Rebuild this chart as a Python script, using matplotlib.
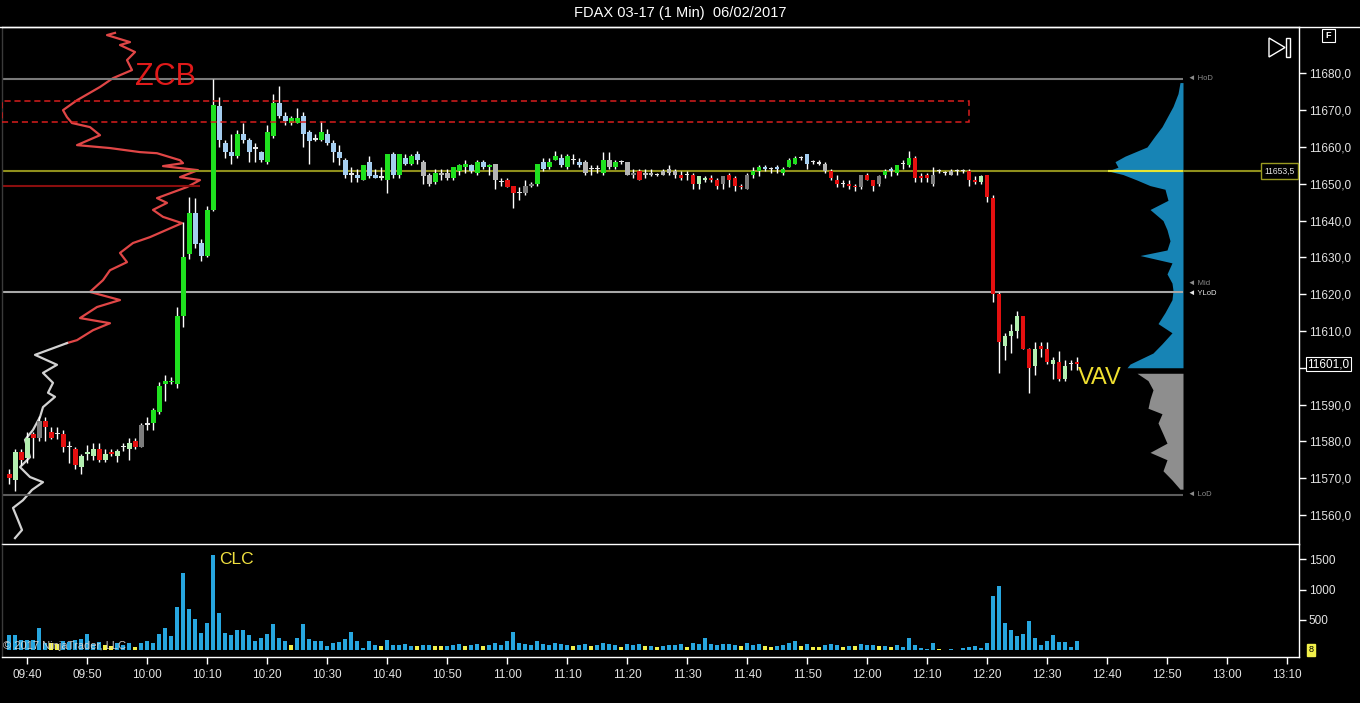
import numpy as np
import matplotlib
matplotlib.use("Agg")
import matplotlib.pyplot as plt
from matplotlib.patches import Rectangle, Polygon
from matplotlib.lines import Line2D

plt.rcParams['font.family'] = ['Liberation Sans', 'DejaVu Sans']

# ---------------- data ----------------
start_minute = 9 * 60 + 37   # first 1-min bar, 09:37

opens = [11571.0, 11569.5, 11577.0, 11575.5, 11582.0, 11581.0, 11585.5, 11582.5, 11582.0, 11582.0,
         11578.5, 11578.0, 11573.0, 11576.5, 11576.0, 11578.0, 11575.0, 11577.0, 11576.0, 11578.5,
         11578.0, 11580.0, 11578.5, 11584.5, 11585.0, 11588.0, 11595.5, 11596.0, 11595.5, 11614.0,
         11631.0, 11642.0, 11634.0, 11630.5, 11643.0, 11671.0, 11661.0, 11658.5, 11657.5, 11663.5,
         11662.0, 11660.0, 11658.5, 11656.0, 11663.0, 11672.0, 11668.5, 11666.5, 11666.5, 11668.5,
         11664.0, 11662.5, 11662.0, 11663.5, 11661.0, 11658.5, 11656.5, 11653.0, 11652.5, 11651.0,
         11656.0, 11652.5, 11652.0, 11651.0, 11658.0, 11652.5, 11657.0, 11655.5, 11658.0, 11656.0,
         11652.5, 11650.5, 11652.5, 11653.0, 11651.5, 11653.5, 11654.5, 11655.0, 11653.0, 11656.0,
         11654.5, 11655.5, 11650.5, 11651.0, 11649.5, 11647.5, 11647.5, 11649.5, 11650.0, 11654.0,
         11654.5, 11656.5, 11657.0, 11654.5, 11656.5, 11656.0, 11656.0, 11654.0, 11654.0, 11653.0,
         11656.5, 11654.5, 11656.0, 11656.0, 11652.5, 11653.5, 11653.0, 11652.5, 11652.5, 11653.5,
         11653.0, 11653.5, 11652.5, 11652.5, 11652.5, 11650.0, 11651.0, 11651.5, 11651.0, 11650.0,
         11652.5, 11651.5, 11649.5, 11648.5, 11652.5, 11653.5, 11654.5, 11654.0, 11654.5, 11653.0,
         11654.5, 11655.5, 11657.0, 11658.0, 11656.0, 11656.0, 11655.5, 11653.5, 11651.0, 11650.0,
         11650.0, 11649.5, 11649.0, 11652.5, 11651.0, 11650.0, 11652.5, 11653.5, 11653.0, 11655.5,
         11655.0, 11657.0, 11652.0, 11652.5, 11652.5, 11653.5, 11653.0, 11653.5, 11653.5, 11653.5,
         11653.5, 11651.0, 11650.5, 11652.5, 11646.0, 11620.0, 11606.0, 11608.5, 11610.0, 11614.0,
         11605.0, 11600.5, 11606.0, 11605.0, 11601.0, 11601.5, 11597.0, 11601.0, 11601.5]

highs = [11572.5, 11578.0, 11578.0, 11582.5, 11582.5, 11587.0, 11586.5, 11584.0, 11584.0, 11583.0,
         11580.0, 11578.5, 11576.5, 11579.0, 11579.5, 11579.5, 11578.0, 11578.0, 11578.0, 11579.5,
         11581.0, 11581.0, 11585.0, 11586.5, 11589.0, 11596.0, 11598.0, 11597.5, 11616.5, 11639.5,
         11646.5, 11646.0, 11635.0, 11644.0, 11678.5, 11673.5, 11662.0, 11663.5, 11664.5, 11666.5,
         11662.5, 11661.0, 11659.0, 11666.0, 11674.5, 11676.5, 11669.5, 11668.5, 11670.5, 11669.5,
         11664.5, 11663.5, 11667.0, 11665.0, 11662.0, 11660.5, 11657.0, 11654.5, 11654.0, 11655.0,
         11657.5, 11654.0, 11654.5, 11658.0, 11658.5, 11658.0, 11658.0, 11658.0, 11659.0, 11656.5,
         11653.0, 11654.0, 11654.0, 11654.0, 11654.5, 11655.5, 11656.5, 11655.5, 11656.5, 11656.5,
         11655.5, 11655.5, 11651.5, 11651.5, 11649.5, 11649.0, 11651.0, 11650.5, 11655.5, 11657.0,
         11657.0, 11659.0, 11658.0, 11658.0, 11658.0, 11657.0, 11656.5, 11655.0, 11655.0, 11658.5,
         11658.5, 11656.5, 11656.5, 11656.0, 11654.0, 11654.0, 11654.0, 11654.0, 11653.0, 11654.0,
         11655.0, 11654.0, 11653.5, 11653.5, 11653.0, 11652.0, 11652.0, 11652.5, 11651.5, 11652.0,
         11653.0, 11652.0, 11650.0, 11653.0, 11654.5, 11655.0, 11655.0, 11654.5, 11655.0, 11654.5,
         11657.0, 11657.5, 11657.5, 11658.0, 11656.5, 11656.5, 11656.0, 11654.0, 11652.5, 11651.0,
         11651.0, 11650.0, 11652.5, 11653.0, 11651.0, 11652.5, 11654.0, 11654.5, 11655.0, 11656.5,
         11659.0, 11657.5, 11653.0, 11653.0, 11654.5, 11654.0, 11653.5, 11654.0, 11654.0, 11654.0,
         11654.0, 11652.0, 11652.5, 11652.5, 11647.0, 11620.5, 11609.5, 11612.0, 11615.5, 11614.0,
         11605.5, 11607.0, 11607.0, 11607.0, 11603.0, 11604.5, 11602.0, 11602.0, 11603.0]

lows = [11568.5, 11566.5, 11573.5, 11574.0, 11575.5, 11580.0, 11580.0, 11580.5, 11580.5, 11577.0,
        11574.0, 11572.5, 11571.0, 11575.0, 11575.0, 11574.5, 11574.5, 11576.0, 11574.5, 11577.5,
        11575.0, 11578.0, 11578.5, 11583.0, 11583.0, 11587.5, 11591.0, 11595.5, 11594.5, 11611.0,
        11629.5, 11632.5, 11629.0, 11630.0, 11642.5, 11660.0, 11657.0, 11655.5, 11657.0, 11661.0,
        11656.0, 11656.0, 11656.0, 11655.5, 11662.5, 11668.0, 11666.0, 11666.0, 11666.5, 11660.0,
        11655.5, 11661.5, 11661.5, 11660.5, 11656.0, 11655.0, 11651.5, 11650.5, 11650.5, 11651.0,
        11651.5, 11651.5, 11651.0, 11647.5, 11651.5, 11651.5, 11655.0, 11655.0, 11655.5, 11650.0,
        11649.5, 11650.0, 11651.0, 11651.0, 11651.0, 11652.5, 11653.0, 11653.0, 11652.5, 11654.0,
        11652.5, 11648.5, 11649.5, 11649.0, 11643.5, 11645.5, 11647.0, 11649.0, 11649.5, 11653.5,
        11654.0, 11656.5, 11654.5, 11654.0, 11655.5, 11654.5, 11652.5, 11652.5, 11653.0, 11652.5,
        11654.0, 11654.0, 11655.5, 11652.5, 11651.5, 11651.0, 11651.5, 11652.0, 11652.0, 11652.5,
        11652.5, 11651.5, 11651.0, 11651.0, 11648.5, 11648.5, 11650.5, 11650.5, 11648.5, 11648.5,
        11649.0, 11648.0, 11648.5, 11648.5, 11651.5, 11652.0, 11653.5, 11653.0, 11653.0, 11652.5,
        11654.5, 11655.5, 11656.5, 11654.0, 11655.5, 11655.0, 11653.0, 11651.0, 11649.0, 11649.0,
        11648.5, 11648.0, 11648.5, 11651.0, 11648.0, 11649.5, 11651.5, 11652.0, 11652.5, 11654.0,
        11654.5, 11650.5, 11650.5, 11650.5, 11649.5, 11653.0, 11652.5, 11652.5, 11652.5, 11653.0,
        11649.5, 11650.0, 11650.0, 11645.0, 11618.0, 11598.5, 11602.0, 11604.0, 11608.0, 11605.0,
        11593.0, 11598.0, 11603.0, 11601.0, 11597.0, 11596.5, 11596.5, 11599.5, 11599.5]

closes = [11570.0, 11577.0, 11575.0, 11581.0, 11581.0, 11585.5, 11584.0, 11581.0, 11582.0, 11578.5,
          11578.5, 11573.5, 11576.0, 11577.0, 11578.0, 11575.0, 11576.5, 11576.5, 11577.5, 11578.5,
          11579.5, 11578.5, 11584.5, 11585.0, 11588.5, 11595.0, 11596.5, 11596.5, 11614.0, 11630.0,
          11642.0, 11633.5, 11630.5, 11643.0, 11671.5, 11662.0, 11658.5, 11657.5, 11663.5, 11662.0,
          11658.5, 11659.5, 11656.5, 11664.0, 11672.0, 11668.5, 11667.0, 11668.0, 11668.0, 11663.5,
          11661.5, 11662.0, 11664.0, 11661.0, 11658.5, 11657.0, 11652.5, 11652.5, 11651.5, 11655.0,
          11652.0, 11651.5, 11651.5, 11658.0, 11652.5, 11658.0, 11655.5, 11657.5, 11656.5, 11652.0,
          11650.0, 11653.0, 11653.0, 11651.5, 11654.5, 11655.0, 11655.5, 11653.5, 11656.0, 11654.5,
          11655.0, 11651.0, 11650.5, 11649.0, 11647.5, 11647.5, 11649.5, 11650.0, 11655.5, 11656.0,
          11656.0, 11657.5, 11655.0, 11657.5, 11656.5, 11655.0, 11653.0, 11654.0, 11654.0, 11656.5,
          11654.5, 11656.0, 11656.0, 11652.5, 11653.0, 11651.0, 11652.5, 11653.0, 11652.5, 11652.5,
          11654.0, 11652.5, 11651.5, 11652.5, 11650.0, 11652.0, 11651.5, 11651.0, 11649.5, 11652.0,
          11651.0, 11649.5, 11649.0, 11652.5, 11653.5, 11654.5, 11654.0, 11654.0, 11654.0, 11654.0,
          11656.5, 11657.0, 11657.0, 11655.5, 11656.0, 11655.5, 11653.5, 11651.5, 11650.0, 11650.0,
          11649.5, 11649.0, 11652.5, 11651.0, 11649.5, 11652.0, 11653.5, 11654.0, 11655.0, 11655.5,
          11657.0, 11651.5, 11651.5, 11651.5, 11650.0, 11653.5, 11653.0, 11652.5, 11653.5, 11653.5,
          11651.0, 11650.5, 11652.0, 11646.5, 11620.0, 11607.0, 11608.5, 11610.0, 11614.0, 11605.0,
          11600.0, 11605.0, 11605.0, 11601.5, 11602.0, 11597.0, 11600.5, 11601.0, 11601.0]

candle_kind = ("r lg r lg r dg r r x r "
               "x r lg lg lg r lg r lg x "
               "lg r dg x g g g g g g "
               "g lb lb g g lb lb lb g lb "
               "lb x lb g g lb lb g g lb "
               "lb x g lb lb lb lb x lb g "
               "lb lb x g lb g lb g lb gr "
               "gr g gr gr g g g lb g lb "
               "g gr x r r x dg dg g lb "
               "g g lb g x lb gr x x g "
               "gr g x gr dg r gr gr x gr "
               "gr gr r x r lg lg r r dg "
               "r r r dg g g lb x lb g "
               "g g x lb x x gr r r x "
               "r r dg r r dg g lb g x "
               "g r r r dg x x gr x x "
               "r r lg r r r lg lg lg r "
               "r lg r r lg r lg x r").split()

volumes = [254, 254, 172, 172, 180, 374, 128, 115, 100, 155,
           140, 172, 190, 270, 100, 140, 85, 70, 128, 85,
           128, 60, 128, 155, 128, 270, 374, 235, 718, 1275,
           685, 510, 282, 455, 1565, 620, 282, 248, 336, 336,
           248, 150, 200, 265, 430, 210, 150, 95, 210, 430,
           190, 150, 150, 70, 128, 140, 190, 295, 150, 40,
           150, 85, 70, 172, 85, 85, 100, 70, 70, 85,
           85, 70, 70, 70, 85, 100, 70, 85, 100, 70,
           85, 130, 85, 150, 300, 130, 100, 85, 150, 100,
           85, 130, 100, 85, 70, 85, 100, 70, 85, 130,
           100, 85, 60, 100, 85, 100, 70, 70, 60, 70,
           85, 85, 100, 60, 130, 100, 200, 100, 85, 100,
           100, 85, 70, 130, 85, 100, 70, 60, 70, 85,
           130, 150, 70, 100, 60, 60, 85, 100, 85, 60,
           70, 70, 100, 85, 85, 70, 70, 60, 85, 52,
           210, 85, 40, 30, 130, 25, 10, 20, 10, 40,
           55, 70, 40, 115, 893, 1057, 456, 336, 235, 265,
           483, 210, 85, 150, 254, 135, 135, 55, 150]

volume_kind = ("b b b b b b b y y b "
               "b b b b b b y y b b "
               "b y b b b b b b b b "
               "b b b b b b b b b b "
               "b b b b b b b y b b "
               "b b b b b b b b b b "
               "b b y b b b b b y b "
               "b y y b b b y b b y "
               "b b b b b b b b b b "
               "b b b b y b b y b b "
               "b b y b b b y b y b "
               "b b b y b b b b b b "
               "b b y b b b y y b b "
               "b b y b y y b b b y "
               "b y b b b y b y b b "
               "b b b b b y b b b b "
               "b b b b b b b b b b "
               "b b b b b b b b b").split()
volume_now = 8   # volume of the bar in progress (yellow tag)

# previous-session profile on the left (price, volume width)
lp_prices = [11691.0, 11690.4, 11688.5, 11687.7, 11685.8, 11683.6, 11680.9, 11678.7, 11676.3, 11672.7,
             11670.0, 11668.1, 11666.5, 11665.4, 11663.2, 11660.5, 11659.7, 11658.6, 11658.3, 11656.4,
             11655.6, 11654.8, 11653.7, 11651.8, 11651.0, 11649.1, 11646.1, 11644.8, 11642.9, 11641.0,
             11639.3, 11635.5, 11633.9, 11631.2, 11628.7, 11626.5, 11623.8, 11620.6, 11618.4, 11616.5,
             11613.5, 11612.1, 11610.2, 11607.5, 11606.7, 11603.5, 11600.8, 11598.6, 11595.9, 11593.2,
             11592.1, 11589.3, 11586.6, 11583.1, 11580.4, 11575.7, 11573.0, 11570.3, 11568.9, 11566.8,
             11564.0, 11561.9, 11558.6, 11555.9, 11553.7]
lp_widths = [113, 105, 128, 118, 133, 125, 130, 111, 98, 75,
             61, 65, 70, 88, 98, 75, 108, 138, 155, 178,
             181, 161, 196, 178, 198, 185, 155, 165, 151, 161,
             180, 148, 131, 118, 125, 108, 101, 88, 118, 95,
             78, 108, 91, 75, 65, 33, 55, 41, 51, 46,
             53, 41, 38, 31, 23, 28, 18, 28, 41, 30,
             21, 11, 16, 20, 13]
lp_split = 11606.7   # red above, white below

# today's volume profile on the right (price, width)
vp_prices = [11677.5, 11674.5, 11671.0, 11668.0, 11665.5, 11663.0, 11660.0, 11657.5, 11656.0, 11654.5,
             11653.5, 11652.5, 11651.0, 11649.5, 11648.5, 11645.5, 11643.0, 11640.0, 11637.5, 11634.5,
             11632.0, 11630.5, 11628.5, 11625.5, 11623.0, 11621.0, 11618.5, 11615.0, 11612.0, 11609.5,
             11606.5, 11604.0, 11601.0, 11600.0, 11598.5, 11596.5, 11594.0, 11591.5, 11589.0, 11587.5,
             11585.0, 11582.0, 11579.5, 11577.0, 11575.0, 11572.0, 11569.5, 11567.0]
vp_widths = [3, 5, 10, 16, 21, 28, 36, 58, 68, 65,
             75, 60, 46, 33, 18, 15, 33, 20, 16, 13,
             16, 43, 11, 16, 11, 10, 11, 18, 25, 11,
             21, 30, 53, 56, 46, 35, 30, 33, 35, 21,
             25, 20, 16, 33, 16, 20, 11, 3]
value_area_low = 11599.5

hod = 11678.5
lod = 11565.5
ylod = 11620.6
poc = 11653.5
last_price = 11601.0
prior_level = 11649.4
zcb_low, zcb_high = 11666.75, 11672.5
zcb_end = 12 * 60 + 17

# ---------------- styling ----------------
W, H = 1360, 703
BG = 'black'
kind_color = {'g': '#1fe01f', 'lg': '#b3efb0', 'lb': '#a4cdef', 'gr': '#b4b4b4',
              'dg': '#7c7c7c', 'r': '#e41010', 'x': '#e6e6e6'}
vol_color = {'b': '#27a6df', 'y': '#f2f04a'}
TXT = '#e4e4e4'


def rect(x0, y0, x1, y1):
    return [x0 / W, 1 - y1 / H, (x1 - x0) / W, (y1 - y0) / H]


fig = plt.figure(figsize=(W / 100, H / 100), dpi=100, facecolor=BG)
ax = fig.add_axes(rect(2, 27, 1299, 544))
axv = fig.add_axes(rect(2, 545, 1299, 657))
axp = fig.add_axes(rect(2, 27, 1299, 544))   # overlay for profiles, in pixel-like units

price_lim = (11552.1, 11692.6)
time_lim = (575.8, 792.0)

times = start_minute + np.arange(len(opens))
o = np.array(opens)
c = np.array(closes)

# profiles (behind candles)
axp.set_zorder(0)
ax.set_zorder(1)
axv.set_zorder(1)
ax.set_facecolor('none')
axp.set_facecolor(BG)
axp.set_xlim(0, 1297)
axp.set_ylim(*price_lim)
axp.axis('off')

PROF_R = 1181
lp_p = np.array(lp_prices)
lp_w = np.array(lp_widths)
top = lp_p >= lp_split
bot = lp_p <= lp_split
axp.plot(lp_w[top], lp_p[top], color='#e04646', lw=1.6)
axp.plot(lp_w[bot], lp_p[bot], color='#d2d2d2', lw=1.6)

vp_p = np.array(vp_prices)
vp_w = np.array(vp_widths)
va = vp_p >= value_area_low
axp.fill_betweenx(vp_p[va], PROF_R - vp_w[va], PROF_R, color='#1784b5', lw=0)
axp.fill_betweenx(vp_p[~va], PROF_R - vp_w[~va], PROF_R, color='#8e8e8e', lw=0)

# horizontal reference lines
axp.hlines(hod, 0, PROF_R, color='#7a7a7a', lw=1.5)
axp.hlines(ylod, 0, PROF_R, color='#a8a8a8', lw=1.5)
axp.hlines(lod, 0, PROF_R, color='#5c5c5c', lw=1.5)
axp.hlines(poc, 0, 1262, color='#8f8f1c', lw=1.5)
axp.hlines(poc, PROF_R - max(vp_widths), PROF_R, color='#e6e632', lw=1.5)
axp.hlines(prior_level, 0, 198, color='#8a0e0e', lw=1.5)

mid = (hod + lod) / 2
for lvl, lab, col in [(hod, 'HoD', '#8c8c8c'), (mid, 'Mid', '#8c8c8c'),
                      (ylod, 'YLoD', '#e8e8e8'), (lod, 'LoD', '#8c8c8c')]:
    dy = 0.9 if lab == 'Mid' else (-0.5 if lab == 'YLoD' else 0)
    axp.text(PROF_R + 5, lvl + dy, '\u25c4 ' + lab, color=col, fontsize=5.5, va='center', ha='left')

# candles
ax.set_xlim(*time_lim)
ax.set_ylim(*price_lim)
ax.vlines(times, lows, highs, color='white', lw=1, zorder=2)
body_lo = np.minimum(o, c)
body_h = np.maximum(np.abs(c - o), 0.25)
cols = [kind_color[k] for k in candle_kind]
ax.bar(times, body_h, bottom=body_lo, width=0.8, color=cols, lw=0, zorder=3)

# ZCB zone
ax.add_patch(Rectangle((time_lim[0], zcb_low), zcb_end - time_lim[0], zcb_high - zcb_low,
                       fill=False, ec='#d81e1e', ls=(0, (4, 2.5)), lw=1.1, zorder=4))
ax.text(603, 11679, 'ZCB', color='#e01a1a', fontsize=22, ha='center', va='center', zorder=5)
ax.text(758.8, 11597.2, 'VAV', color='#f0e030', fontsize=17, ha='center', va='center', zorder=5)

# right price axis (11600 is hidden under the last-price tag)
yt = np.arange(11560, 11681, 10)
ax.yaxis.tick_right()
ax.set_yticks(yt)
ax.set_yticklabels(['' if v == 11600 else f"{v:.1f}".replace('.', ',') for v in yt])
ax.tick_params(axis='y', colors='white', labelcolor=TXT, labelsize=8.5, length=5, width=1,
               direction='out', pad=2)
ax.set_xticks([])
for side, sp in ax.spines.items():
    sp.set_color('white')
    sp.set_linewidth(1)
ax.spines['left'].set_color('#3a3a3a')

ax.annotate(f"{poc:.1f}".replace('.', ','), xy=(1.0, poc), xycoords=('axes fraction', 'data'),
            xytext=(-3, 0), textcoords='offset points', ha='right', va='center', color=TXT,
            fontsize=6.2, bbox=dict(boxstyle='square,pad=0.4', fc='black', ec='#9a9a20', lw=1),
            zorder=6)
ax.annotate(f"{last_price:.1f}".replace('.', ','), xy=(1.0, last_price),
            xycoords=('axes fraction', 'data'), xytext=(6, 0), textcoords='offset points',
            ha='left', va='center', color='white', fontsize=8.5,
            bbox=dict(boxstyle='square,pad=0.12', fc='black', ec='white', lw=0.8),
            annotation_clip=False, zorder=6)

# volume panel
axv.set_facecolor('none')
axv.set_xlim(*time_lim)
axv.set_ylim(-107, 1730)
axv.bar(times, volumes, width=0.7, color=[vol_color[k] for k in volume_kind], lw=0)
axv.text(614.9, 1484, 'CLC', color='#f0e040', fontsize=12.5, ha='center', va='center')
axv.yaxis.tick_right()
axv.set_yticks([500, 1000, 1500])
axv.set_yticklabels(['500', '1000', '1500'])
axv.tick_params(axis='y', colors='white', labelcolor=TXT, labelsize=8.5, length=5, width=1,
                direction='out', pad=2)
xt = np.arange(580, 791, 10)
axv.set_xticks(xt)
axv.set_xticklabels([f"{t // 60:02d}:{t % 60:02d}" for t in xt])
axv.tick_params(axis='x', colors='white', labelcolor=TXT, labelsize=8.5, length=5, width=1,
                direction='out', pad=4)
for side, sp in axv.spines.items():
    sp.set_color('white')
    sp.set_linewidth(1)
axv.spines['top'].set_visible(False)
axv.spines['left'].set_color('#3a3a3a')
axv.annotate(str(volume_now), xy=(1.0, volume_now), xycoords=('axes fraction', 'data'),
             xytext=(7, 0), textcoords='offset points', ha='left', va='center', color='black',
             fontsize=6.5, bbox=dict(boxstyle='square,pad=0.15', fc='#f2f04a', ec='#f2f04a'),
             annotation_clip=False)
axv.text(0.001, 0.05, '\u00a9 2017 NinjaTrader, LLC', transform=axv.transAxes, color='#d8d8d8',
         fontsize=8, ha='left', va='bottom', alpha=0.9)

# title and frame decorations
fig.text(0.5, 1 - 13 / H, 'FDAX 03-17 (1 Min)  06/02/2017', color='white', fontsize=10.5,
         ha='center', va='center')
fig.add_artist(Line2D([0, 1], [1 - 27 / H] * 2, color='white', lw=1, transform=fig.transFigure))


def fxy(px, py):
    return (px / W, 1 - py / H)


fig.add_artist(Polygon([fxy(1269, 38), fxy(1269, 57), fxy(1285, 47.5)], closed=True, fill=False,
                       ec='white', lw=1, transform=fig.transFigure))
fig.add_artist(Rectangle(fxy(1286, 57), 4 / W, 19 / H, fill=False, ec='white', lw=1,
                         transform=fig.transFigure))
fig.add_artist(Rectangle(fxy(1322, 42), 13 / W, 13 / H, fill=False, ec='white', lw=0.8,
                         transform=fig.transFigure))
fig.text(1328.5 / W, 1 - 35.5 / H, 'F', color='white', fontsize=6.5, ha='center', va='center',
         fontweight='bold')

fig.savefig('out.png', dpi=100, facecolor=BG)
